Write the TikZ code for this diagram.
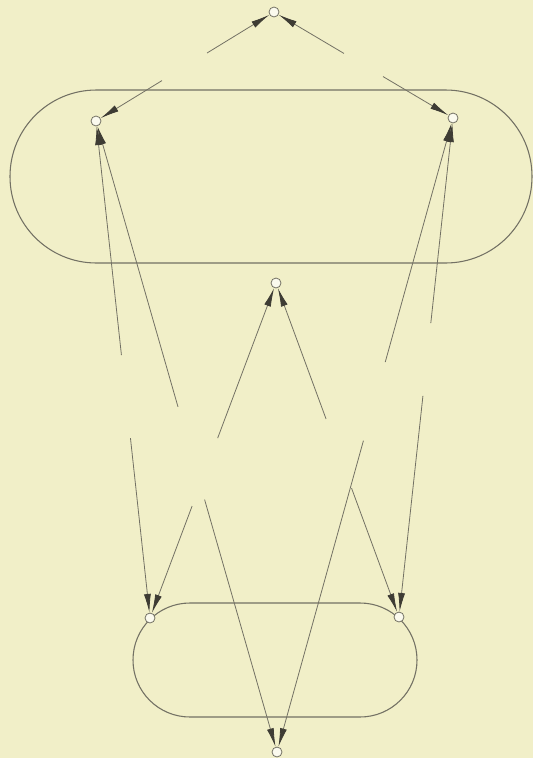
\documentclass[tikz,border=0pt]{standalone}
\usetikzlibrary{arrows.meta,calc}
\definecolor{bg}{RGB}{241,239,200}
\definecolor{ln}{RGB}{115,113,100}
\definecolor{ah}{RGB}{62,60,52}
\begin{document}
\begin{tikzpicture}[x=0.75pt,y=-0.75pt,
  vtx/.style={circle,draw=ln,fill=white!70!bg,inner sep=0pt,minimum size=7.5pt,line width=0.6pt},
  edge/.style={draw=ln,line width=0.6pt,-{Latex[length=14pt,width=5.2pt,color=ah]}},
  oval/.style={draw=ln,line width=0.8pt}]
\fill[bg] (0,0) rectangle (533,758);
\useasboundingbox (0,0) rectangle (533,758);
% ovals
\draw[oval,rounded corners=64.8pt] (10,90) rectangle (532,263);
\draw[oval,rounded corners=42.7pt] (133,603) rectangle (417,717);
% vertices
\node[vtx] (T) at (274,12) {};
\node[vtx] (A) at (96,121) {};
\node[vtx] (B) at (453,118) {};
\node[vtx] (C) at (276,283) {};
\node[vtx] (D) at (150,618) {};
\node[vtx] (E) at (399,617) {};
\node[vtx] (F) at (277,752) {};
% edges, each drawn as two arrows from a gap towards both ends
\draw[edge] ($(T)!0.376!(A)$) -- (T);
\draw[edge] ($(T)!0.629!(A)$) -- (A);
\draw[edge] ($(T)!0.391!(B)$) -- (T);
\draw[edge] ($(T)!0.609!(B)$) -- (B);
\draw[edge] ($(A)!0.471!(D)$) -- (A);
\draw[edge] ($(A)!0.638!(D)$) -- (D);
\draw[edge] ($(A)!0.453!(F)$) -- (A);
\draw[edge] ($(A)!0.600!(F)$) -- (F);
\draw[edge] ($(C)!0.463!(D)$) -- (C);
\draw[edge] ($(C)!0.666!(D)$) -- (D);
\draw[edge] ($(C)!0.407!(E)$) -- (C);
\draw[edge] ($(C)!0.614!(E)$) -- (E);
\draw[edge] ($(B)!0.385!(F)$) -- (B);
\draw[edge] ($(B)!0.509!(F)$) -- (F);
\draw[edge] ($(B)!0.411!(E)$) -- (B);
\draw[edge] ($(B)!0.557!(E)$) -- (E);
\end{tikzpicture}
\end{document}
